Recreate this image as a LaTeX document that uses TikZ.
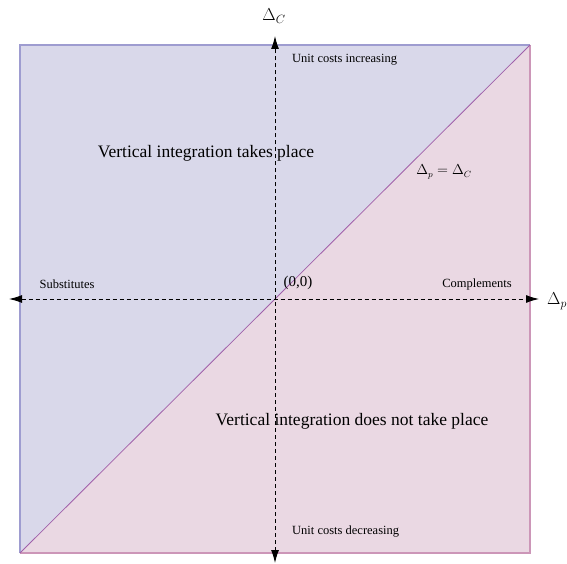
\documentclass[tikz,border=0pt]{standalone}
\usepackage{fontspec}
\setmainfont{Liberation Serif}
\usetikzlibrary{arrows.meta}
\definecolor{zoneblue}{RGB}{217,216,234}
\definecolor{zonepink}{RGB}{234,216,227}
\definecolor{edgeblue}{RGB}{158,156,208}
\definecolor{edgepink}{RGB}{204,150,184}
\definecolor{diagline}{RGB}{160,96,170}
\tikzset{
  smalltext/.style={font=\fontsize{12.5}{14}\selectfont, inner sep=1pt},
  bigtext/.style={font=\fontsize{17.5}{20}\selectfont, inner sep=1pt},
  axis/.style={dash pattern=on 4pt off 3pt, line width=1pt, {Latex[length=13pt,width=8pt]}-{Latex[length=13pt,width=8pt]}},
}
\begin{document}
\begin{tikzpicture}[x=1pt,y=1pt]
\useasboundingbox (0,0) rectangle (567,563);

% Regions
\coordinate (sw) at (20,10);
\coordinate (ne) at (530,518);
\coordinate (nw) at (20,518);
\coordinate (se) at (530,10);
\fill[zoneblue] (sw) -- (nw) -- (ne) -- cycle;
\fill[zonepink] (sw) -- (se) -- (ne) -- cycle;

% Frame
\draw[edgeblue, line width=1.2pt] (sw) -- (nw) -- (ne);
\draw[edgepink, line width=1.2pt] (sw) -- (se) -- (ne);
\draw[diagline, line width=0.8pt] (sw) -- (ne);

% Axes
\coordinate (left) at (9,264);
\coordinate (right) at (539,264);
\coordinate (bottom) at (275,0);
\coordinate (top) at (275,527);
\draw[axis] (left) -- (right);
\draw[axis] (bottom) -- (top);

\node[font=\fontsize{16.5}{18}\selectfont] (dc) at (274,547) {$\Delta_C$};
\node[font=\fontsize{16.5}{18}\selectfont, anchor=west, inner sep=0pt] (dp) at (547,262) {$\Delta_p$};

% Labels
\node[smalltext, anchor=west] (incr) at (291,503) {Unit costs increasing};
\node[smalltext, anchor=west] (decr) at (291,31) {Unit costs decreasing};
\node[smalltext] (subs) at (67,279) {Substitutes};
\node[smalltext] (compl) at (477,279) {Complements};
\node[font=\fontsize{15}{17}\selectfont, inner sep=1pt] (orig) at (298,280) {(0,0)};
\node[bigtext] (takes) at (206,410) {Vertical integration takes place};
\node[bigtext] (nottakes) at (352,142) {Vertical integration does not take place};
\node[font=\fontsize{13.5}{15}\selectfont] (diag) at (444,391) {$\Delta_p=\Delta_C$};

\end{tikzpicture}
\end{document}
